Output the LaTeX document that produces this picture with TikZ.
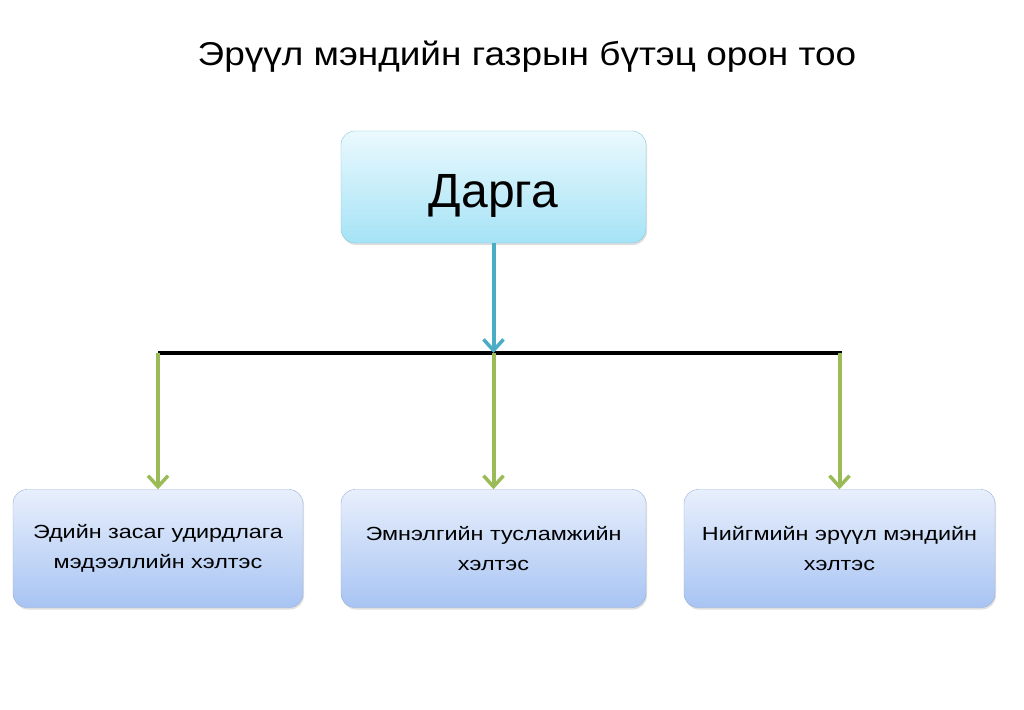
\documentclass[tikz,border=0pt]{standalone}
\usepackage{fontspec}
\setmainfont{Liberation Sans}
\newfontfamily\titlefont[FakeStretch=1.12]{Liberation Sans}
\newfontfamily\unitfont[FakeStretch=1.23]{Liberation Sans}
\usetikzlibrary{%
  arrows.meta,%
  shadows,%
}
\definecolor{bossTop}{HTML}{EAF9FD}
\definecolor{bossBot}{HTML}{A5E3F6}
\definecolor{bossLine}{HTML}{8CC6D8}
\definecolor{unitTop}{HTML}{E8EFFC}
\definecolor{unitBot}{HTML}{A8C4F3}
\definecolor{unitLine}{HTML}{97B0D8}
\definecolor{arrowBlue}{HTML}{4BACC6}
\definecolor{arrowGreen}{HTML}{9BBB59}

\begin{document}
\begin{tikzpicture}[x=1pt, y=-1pt,
    bossbox/.style={rounded corners=14pt, draw=bossLine, top color=bossTop, bottom color=bossBot,
      drop shadow={shadow xshift=1pt, shadow yshift=-2pt, opacity=0.25},
      minimum width=305pt, minimum height=112pt, text height=40pt, text depth=0pt,
      font=\fontsize{48}{52}\selectfont},
    unitbox/.style={rounded corners=14pt, draw=unitLine, top color=unitTop, bottom color=unitBot,
      drop shadow={shadow xshift=1pt, shadow yshift=-2pt, opacity=0.25},
      minimum height=118pt, align=center, font=\unitfont\fontsize{19}{30}\selectfont},
    link/.style={line width=4pt, -{Straight Barb[length=11pt, width=20pt, line width=3.5pt]}},
  ]
  \useasboundingbox [fill=white] (0,0) rectangle (1024,709);
  \node [font=\titlefont\fontsize{33}{38}\selectfont] (title) at (527,57) {Эрүүл мэндийн газрын бүтэц орон тоо};
  \node [bossbox] (boss) at (493.5,187) {Дарга};
  % branch bar
  \coordinate (barL) at (158,353);
  \coordinate (barR) at (842,353);
  \draw [line width=3.5pt] (barL) -- (barR);
  \node [unitbox, minimum width=290pt] (econ) at (158,548.5) {Эдийн засаг удирдлага\\мэдээллийн хэлтэс};
  \node [unitbox, minimum width=305pt] (clinic) at (493.5,548.5) {Эмнэлгийн тусламжийн\\хэлтэс};
  \node [unitbox, minimum width=311pt] (public) at (839.5,548.5) {Нийгмийн эрүүл мэндийн\\хэлтэс};
  \draw [link, arrowBlue] (boss.south) -- (boss.south |- barL);
  \draw [link, arrowGreen] (econ.north |- barL) -- (econ.north);
  \draw [link, arrowGreen] (clinic.north |- barL) -- (clinic.north);
  \draw [link, arrowGreen] (public.north |- barL) -- (public.north);
\end{tikzpicture}
\end{document}
